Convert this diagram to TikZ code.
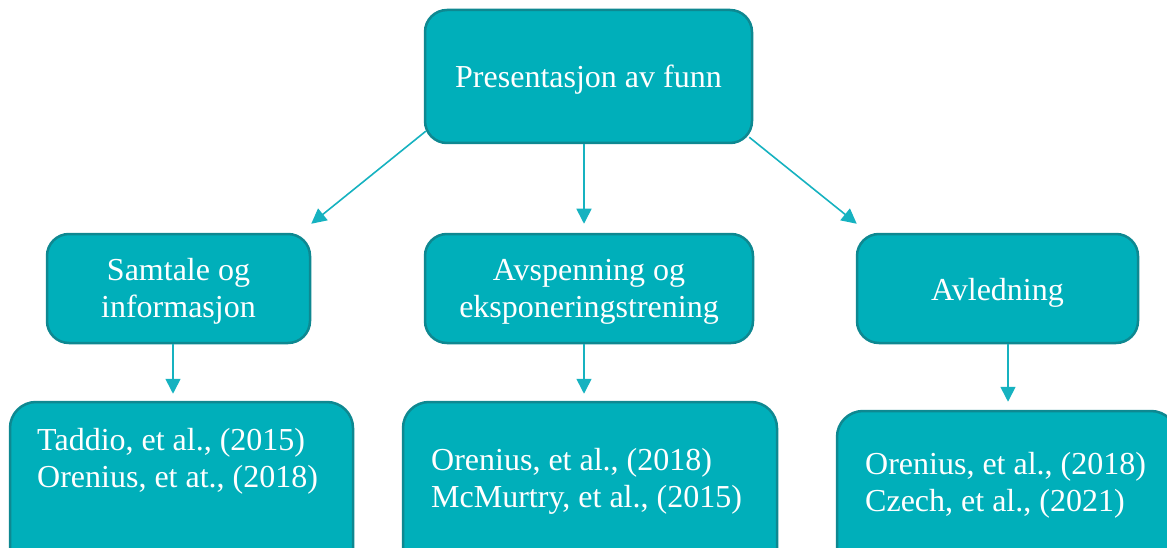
\documentclass[tikz,border=0pt]{standalone}
\usepackage{fontspec}
\setmainfont{Liberation Serif}
\usetikzlibrary{arrows.meta,calc}
\definecolor{boxfill}{RGB}{0,175,186}
\definecolor{boxline}{RGB}{14,136,145}
\definecolor{arrcol}{RGB}{22,178,192}
\tikzset{
  box/.style={draw=boxline, line width=2.5pt, fill=boxfill, rounded corners=22pt, inner sep=0pt},
  boxtext/.style={text=white, align=center, inner sep=0pt, font=\fontsize{32}{37}\selectfont},
  reftext/.style={text=white, align=left, anchor=west, inner sep=0pt,
    font=\fontsize{32}{37}\selectfont},
  arr/.style={draw=arrcol, line width=1.6pt, -{Triangle[length=15pt,width=15pt]}},
}
\begin{document}
\begin{tikzpicture}[x=1pt,y=-1pt]
\useasboundingbox (0,0) rectangle (1167,548);
\clip (0,0) rectangle (1167,548);
\node[box, minimum width=327pt, minimum height=133pt] (top) at (588.5,76.5) {};
\node[box, minimum width=263pt, minimum height=109pt] (l2a) at (178.5,288.5) {};
\node[box, minimum width=328pt, minimum height=109pt] (l2b) at (589,288.5) {};
\node[box, minimum width=281pt, minimum height=109pt] (l2c) at (997.5,288.5) {};
\node[box, rounded corners=26pt, minimum width=343pt, minimum height=180pt] (l3a) at (181.5,492) {};
\node[box, rounded corners=26pt, minimum width=374pt, minimum height=180pt] (l3b) at (590,492) {};
\node[box, rounded corners=26pt, minimum width=340pt, minimum height=170pt] (l3c) at (1007,496) {};
\node[boxtext] (ttop) at ($(top)+(0,3)$) {Presentasjon av funn};
\node[boxtext] (t2a) at ($(l2a)+(0,3)$) {Samtale og\\informasjon};
\node[boxtext] (t2b) at ($(l2b)+(0,3)$) {Avspenning og\\eksponeringstrening};
\node[boxtext] (t2c) at ($(l2c)+(0,4)$) {Avledning};
\node[reftext] (t3a) at (37,461) {Taddio, et al., (2015)\\Orenius, et at., (2018)};
\node[reftext] (t3b) at (431,481) {Orenius, et al., (2018)\\McMurtry, et al., (2015)};
\node[reftext] (t3c) at (865,485) {Orenius, et al., (2018)\\Czech, et al., (2021)};
\draw[arr] ($(top.south west)+(2,-13)$) -- ($(l2a.north east)+(0,-9)$);
\draw[arr] ($(top.south)+(-4.5,0)$) -- ($(l2b.north)+(-5,-9)$);
\draw[arr] ($(top.south east)+(-4,-7)$) -- ($(l2c.north west)+(1,-9)$);
\draw[arr] ($(l2a.south)+(-5.5,0)$) -- ($(l3a.north)+(-8.5,-7)$);
\draw[arr] ($(l2b.south)+(-5,0)$) -- ($(l3b.north)+(-6,-7)$);
\draw[arr] ($(l2c.south)+(10.5,0)$) -- ($(l3c.north)+(1,-8)$);
\end{tikzpicture}
\end{document}
